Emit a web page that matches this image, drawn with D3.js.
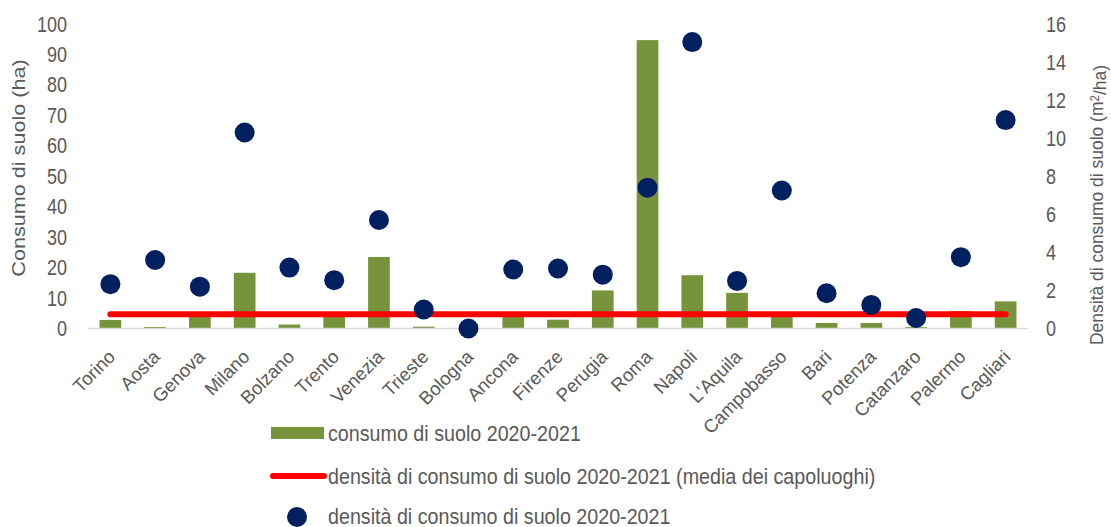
<!DOCTYPE html>
<html>
<head>
<meta charset="utf-8">
<script src="https://cdn.jsdelivr.net/npm/d3@7"></script>
<style>
body { margin: 0; background: #fff; }
text { font-family: "Liberation Sans", Arial, sans-serif; fill: #595959; }
</style>
</head>
<body>
<svg width="1111" height="527"></svg>
<script>
// capoluoghi
var cities = ["Torino", "Aosta", "Genova", "Milano", "Bolzano", "Trento", "Venezia", "Trieste",
  "Bologna", "Ancona", "Firenze", "Perugia", "Roma", "Napoli", "L'Aquila", "Campobasso",
  "Bari", "Potenza", "Catanzaro", "Palermo", "Cagliari"];
// consumo di suolo 2020-2021 (ha)
var consumo = [2.8, 0.5, 4.6, 18.3, 1.3, 4.6, 23.5, 0.6, 0, 4.5, 2.9, 12.5, 94.7, 17.5, 11.7,
  4.6, 1.8, 1.8, 0.5, 5.7, 8.9];
// densita di consumo di suolo 2020-2021 (m2/ha)
var densita = [2.33, 3.6, 2.2, 10.3, 3.2, 2.54, 5.7, 1.0, 0, 3.1, 3.15, 2.83, 7.4, 15.05, 2.5,
  7.25, 1.85, 1.24, 0.55, 3.75, 10.95];
var mediaCapoluoghi = 0.75;
var leftTicks = [0, 10, 20, 30, 40, 50, 60, 70, 80, 90, 100];
var rightTicks = [0, 2, 4, 6, 8, 10, 12, 14, 16];

var green = "#77933C", red = "#FF0000", navy = "#002060";

var svg = d3.select("svg");

var x = d3.scaleBand()
    .domain(cities)
    .range([88, 1028])
    .paddingInner(0.515)
    .paddingOuter(0.2575);
var yL = d3.scaleLinear().domain([0, 100]).range([328.5, 24]);
var yR = d3.scaleLinear().domain([0, 16]).range([328.5, 24]);
var cx = function(d) { return x(d) + x.bandwidth() / 2; };

// stretched text helper (the chart text is taller than wide)
function label(g, tx, ty, s, size, sy, anchor, rot) {
  return g.append("text")
      .attr("transform", "translate(" + tx + "," + ty + ") scale(1," + sy + ")" + (rot ? " rotate(" + rot + ")" : ""))
      .attr("text-anchor", anchor)
      .attr("dy", "0.35em")
      .style("font-size", size + "px")
      .text(s);
}

// bars
svg.append("g").selectAll("rect")
    .data(consumo)
  .enter().append("rect")
    .attr("x", function(d, i) { return x(cities[i]); })
    .attr("width", x.bandwidth())
    .attr("y", function(d) { return yL(d); })
    .attr("height", function(d) { return yL(0) - yL(d); })
    .attr("fill", green);

// axis line
svg.append("line")
    .attr("x1", 88).attr("x2", 1028)
    .attr("y1", yL(0)).attr("y2", yL(0))
    .attr("stroke", "#D9D9D9").attr("stroke-width", 1.5);

// media line
var line = d3.line()
    .x(function(d, i) { return cx(cities[i]); })
    .y(function(d) { return yR(d); });
svg.append("path")
    .datum(cities.map(function() { return mediaCapoluoghi; }))
    .attr("d", line)
    .attr("fill", "none")
    .attr("stroke", red)
    .attr("stroke-width", 6)
    .attr("stroke-linecap", "round");

// dots
svg.append("g").selectAll("circle")
    .data(densita)
  .enter().append("circle")
    .attr("cx", function(d, i) { return cx(cities[i]); })
    .attr("cy", function(d) { return yR(d); })
    .attr("r", 10)
    .attr("fill", navy);

// tick labels
var axes = svg.append("g");
leftTicks.forEach(function(t) { label(axes, 67, yL(t), t, 18, 1.2, "end"); });
rightTicks.forEach(function(t) { label(axes, 1046, yR(t), t, 18, 1.2, "start"); });
cities.forEach(function(c) {
  axes.append("text")
      .attr("transform", "translate(" + (cx(c) + 6) + ",358) rotate(-45)")
      .attr("text-anchor", "end")
      .style("font-size", "18.5px")
      .text(c);
});

// axis titles
label(axes, 19, 168, "Consumo di suolo (ha)", 18, 1.2, "middle", -90);
var rt = axes.append("text")
    .attr("transform", "translate(1097,205) scale(1,0.97) rotate(-90)")
    .attr("text-anchor", "middle")
    .attr("dy", "0.35em")
    .style("font-size", "18px");
rt.append("tspan").text("Densità di consumo di suolo (m");
rt.append("tspan").attr("dy", "-0.4em").style("font-size", "12px").text("2");
rt.append("tspan").attr("dy", "0.4em").text("/ha)");

// legend
var lg = svg.append("g");
lg.append("rect").attr("x", 271).attr("y", 427).attr("width", 53).attr("height", 12).attr("fill", green);
label(lg, 328, 433, "consumo di suolo 2020-2021", 19.7, 1.15, "start");
lg.append("line").attr("x1", 273).attr("x2", 324).attr("y1", 476).attr("y2", 476)
    .attr("stroke", red).attr("stroke-width", 6).attr("stroke-linecap", "round");
label(lg, 328, 476, "densità di consumo di suolo 2020-2021 (media dei capoluoghi)", 19.7, 1.15, "start");
lg.append("circle").attr("cx", 297).attr("cy", 517).attr("r", 10).attr("fill", navy);
label(lg, 328, 516, "densità di consumo di suolo 2020-2021", 19.7, 1.1, "start");
</script>
</body>
</html>
